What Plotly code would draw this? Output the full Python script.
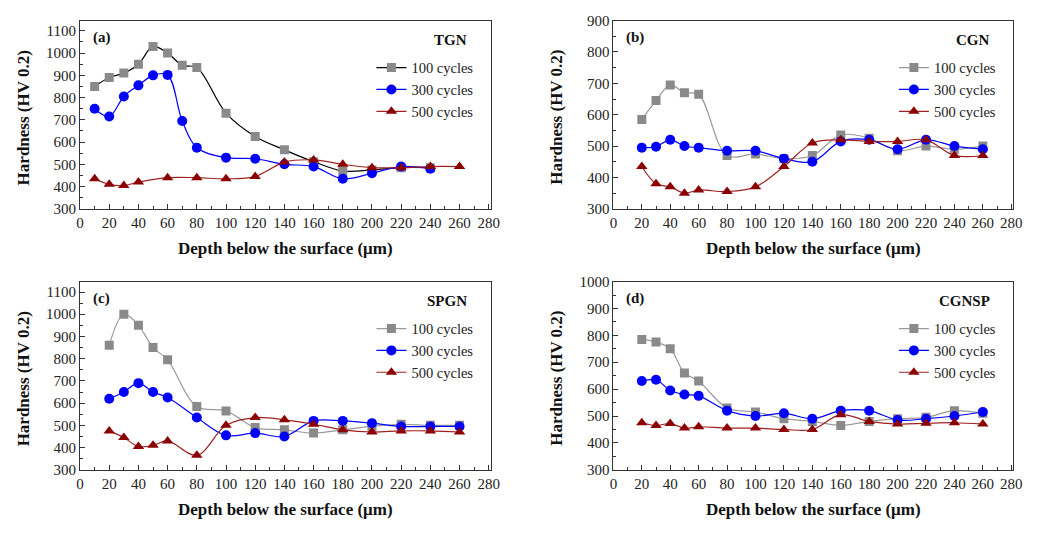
import plotly.graph_objects as go

# ---------------- data ----------------
series_names = ["100 cycles", "300 cycles", "500 cycles"]

# (a) TGN
a_x100 = [10, 20, 30, 40, 50, 60, 70, 80, 100, 120, 140, 160, 180, 200, 220, 240]
a_y100 = [850, 890, 910, 950, 1030, 1000, 945, 935, 730, 625, 565, 512, 470, 475, 485, 485]
a_x300 = [10, 20, 30, 40, 50, 60, 70, 80, 100, 120, 140, 160, 180, 200, 220, 240]
a_y300 = [750, 715, 805, 855, 900, 902, 695, 575, 530, 525, 500, 490, 435, 460, 490, 480]
a_x500 = [10, 20, 30, 40, 60, 80, 100, 120, 140, 160, 180, 200, 220, 240, 260]
a_y500 = [435, 410, 405, 420, 440, 440, 435, 445, 510, 520, 500, 485, 485, 490, 490]

# (b) CGN, (c) SPGN, (d) CGNSP share the same depths
depth = [20, 30, 40, 50, 60, 80, 100, 120, 140, 160, 180, 200, 220, 240, 260]
b_y100 = [585, 645, 695, 670, 665, 470, 475, 460, 470, 535, 525, 485, 500, 490, 500]
b_y300 = [495, 498, 520, 500, 495, 485, 485, 460, 450, 515, 520, 490, 520, 500, 490]
b_y500 = [435, 380, 370, 350, 360, 355, 370, 435, 510, 520, 515, 515, 520, 470, 470]

c_y100 = [860, 1000, 950, 850, 795, 585, 565, 490, 480, 465, 480, 495, 505, 500, 500]
c_y300 = [620, 650, 690, 650, 625, 535, 455, 465, 450, 520, 520, 510, 495, 495, 495]
c_y500 = [475, 445, 405, 410, 430, 365, 500, 535, 525, 505, 480, 470, 475, 475, 470]

d_y100 = [785, 775, 750, 660, 630, 530, 515, 490, 480, 465, 480, 490, 495, 520, 510]
d_y300 = [630, 635, 595, 580, 575, 520, 500, 510, 490, 520, 520, 485, 490, 500, 515]
d_y500 = [475, 465, 472, 455, 460, 455, 455, 450, 450, 505, 480, 470, 473, 475, 470]

panel_labels = ["(a)", "(b)", "(c)", "(d)"]
panel_names = ["TGN", "CGN", "SPGN", "CGNSP"]
x_title = "Depth below the surface (μm)"
y_title = "Hardness (HV 0.2)"
x_ticks = [0, 20, 40, 60, 80, 100, 120, 140, 160, 180, 200, 220, 240, 260, 280]

panels = [
    [(a_x100, a_y100), (a_x300, a_y300), (a_x500, a_y500)],
    [(depth, b_y100), (depth, b_y300), (depth, b_y500)],
    [(depth, c_y100), (depth, c_y300), (depth, c_y500)],
    [(depth, d_y100), (depth, d_y300), (depth, d_y500)],
]
y_ranges = [[300, 1146], [300, 900], [300, 1147], [300, 1000]]

# ---------------- layout geometry ----------------
W, H = 1054, 536
FONT = "Liberation Serif"
boxes = [  # left, right, top, bottom in px
    (77, 493, 13, 207),
    (617, 1022, 13, 207),
    (77, 493, 282, 476),
    (617, 1022, 282, 476),
]

marker_colors = ["#8a8a8a", "#0000ff", "#8b0000"]
marker_symbols = ["square", "circle", "triangle-up"]
marker_sizes = [9, 10, 10]

fig = go.Figure()
layout = dict(
    width=W, height=H,
    margin=dict(l=0, r=0, t=0, b=0),
    paper_bgcolor="white", plot_bgcolor="white",
    showlegend=True,
    annotations=[],
)

for i, (panel, box) in enumerate(zip(panels, boxes)):
    n = "" if i == 0 else str(i + 1)
    xa, ya = "x" + n, "y" + n
    leg = "legend" + n
    l, r, t, b = box
    line_colors = ["#000000" if i == 0 else "#9a9a9a", "#0000ff", "#a02020"]
    for k, (xs, ys) in enumerate(panel):
        fig.add_trace(go.Scatter(
            x=xs, y=ys, mode="lines+markers", name=series_names[k],
            xaxis=xa, yaxis=ya, legend=leg,
            line=dict(color=line_colors[k], width=1.2, shape="spline", smoothing=1.0),
            marker=dict(color=marker_colors[k], symbol=marker_symbols[k], size=marker_sizes[k],
                        line=dict(width=0)),
        ))
    axis_common = dict(
        showline=True, linecolor="#333333", linewidth=1, mirror=True,
        ticks="inside", ticklen=5, tickwidth=1, tickcolor="#333333",
        showgrid=False, zeroline=False,
        tickfont=dict(family=FONT, size=15, color="#222222"),
    )
    layout["xaxis" + n] = dict(
        domain=[l / W, r / W], anchor=ya, range=[0, 281.5],
        tickmode="array", tickvals=x_ticks,
        minor=dict(ticks="inside", ticklen=3, tickcolor="#333333", dtick=10, tick0=0, showgrid=False),
        **axis_common,
    )
    layout["yaxis" + n] = dict(
        domain=[1 - b / H, 1 - t / H], anchor=xa, range=y_ranges[i],
        dtick=100, tick0=0,
        minor=dict(ticks="inside", ticklen=3, tickcolor="#333333", dtick=50, tick0=0, showgrid=False),
        **axis_common,
    )
    layout[leg] = dict(
        x=(r - 121) / W, xanchor="left",
        y=1 - (t + 32) / H, yanchor="top",
        bgcolor="rgba(0,0,0,0)", borderwidth=0,
        font=dict(family=FONT, size=14.5, color="#222222"),
        tracegroupgap=0,
    )
    # panel label and name
    layout["annotations"] += [
        dict(text="<b>%s</b>" % panel_labels[i], x=(l + 11) / W, y=1 - (t + 17) / H,
             xref="paper", yref="paper", xanchor="left", yanchor="middle", showarrow=False,
             font=dict(family=FONT, size=15, color="#111111")),
        dict(text="<b>%s</b>" % panel_names[i], x=(r - 22) / W, y=1 - (t + 20) / H,
             xref="paper", yref="paper", xanchor="right", yanchor="middle", showarrow=False,
             font=dict(family=FONT, size=15, color="#111111")),
        dict(text="<b>%s</b>" % x_title, x=(l + r) / 2 / W, y=1 - (b + 41) / H,
             xref="paper", yref="paper", xanchor="center", yanchor="middle", showarrow=False,
             font=dict(family=FONT, size=17, color="#111111")),
        dict(text="<b>%s</b>" % y_title, x=(l - 57) / W, y=1 - ((t + b) / 2 + 3) / H,
             xref="paper", yref="paper", xanchor="center", yanchor="middle", showarrow=False,
             textangle=-90, font=dict(family=FONT, size=17, color="#111111")),
    ]

fig.update_layout(**layout)
fig.write_html("out.html", config={"displayModeBar": False},
               post_script="document.body.style.margin='0';")
